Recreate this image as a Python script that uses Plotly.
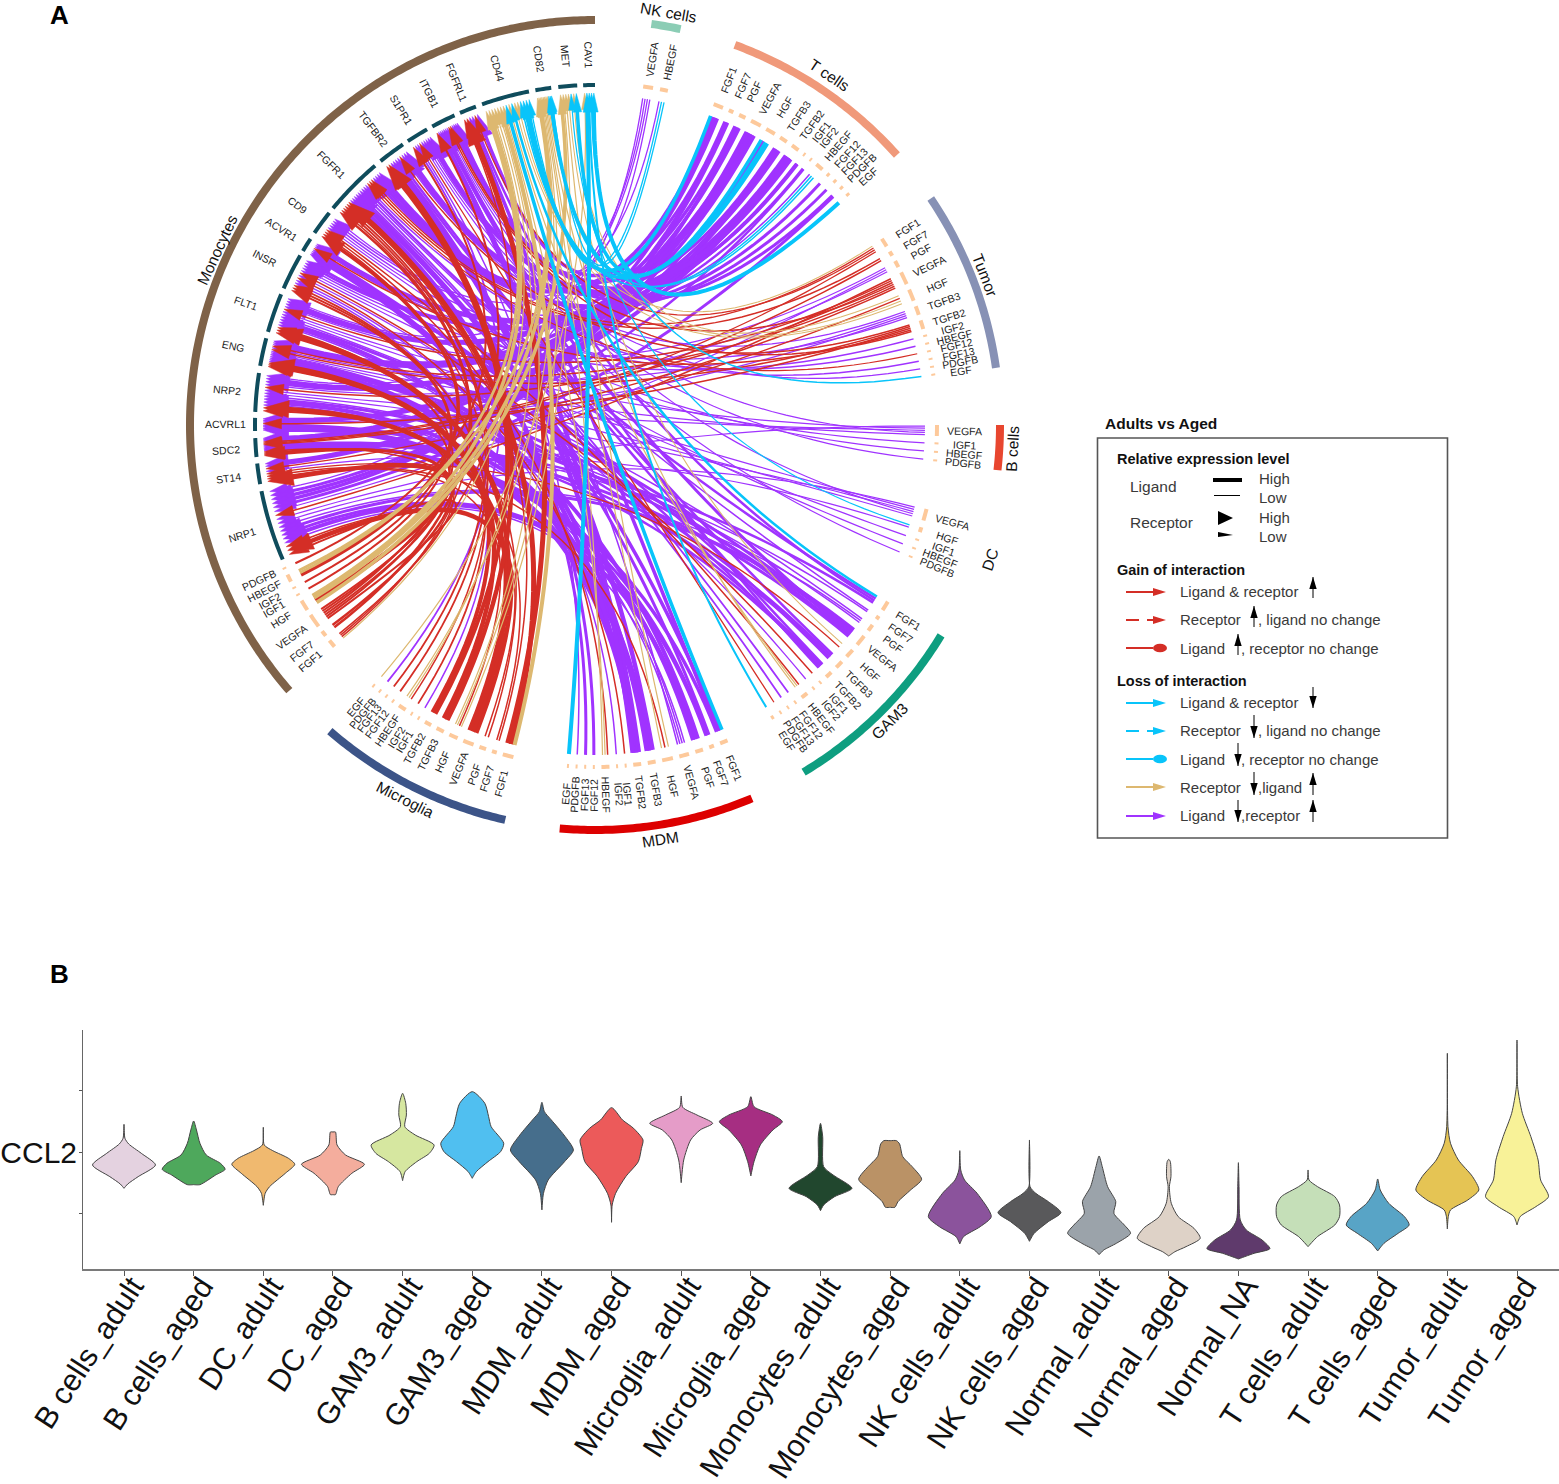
import math
import plotly.graph_objects as go

W, H = 1559, 1484
CX, CY = 595, 425          # centre of the circle on the page
FONT = "Liberation Sans"

# ---------- panel A data ----------
COLORS = {"red": "#D42E26", "cyan": "#08C4FA", "tan": "#DDB870", "purple": "#A033FF"}

GENES14 = ["FGF1","FGF7","PGF","VEGFA","HGF","TGFB3","TGFB2","IGF1","IGF2","HBEGF","FGF12","FGF13","PDGFB","EGF"]

NK_GENES = ["VEGFA","HBEGF"]
NK_TICK = [10,8]
NK_WIDTH = [1.3,1.3]
NK_UP = [0,0]
NK_N = [4,3]

T_TICK = [10,5,7,11,10,8,8,2,2,8,3,3,3,3]
T_WIDTH = [3.5,3,3.5,3.5,3.5,3,4,3,2.5,1.5,3,3,3,4]
T_UP = [0]*14
T_N = [4,3,3,6,4,4,5,3,2,3,1,1,2,1]

TUMOR_GENES = ["FGF1","FGF7","PGF","VEGFA","HGF","TGFB3","TGFB2","IGF2","HBEGF","FGF12","FGF13","PDGFB","EGF"]
TUMOR_TICK = [9,5,7,13,12,9,9,2,2,2,2,2,2]
TUMOR_WIDTH = [1.3,1.5,1.2,1.5,1.3,1.3,1.5,1.5,1.5,1.2,1.5,1.3,1.5]
TUMOR_UP = [1,1,0,1,1,0,1,0,0,1,0,0,0]
TUMOR_N = [4,2,3,6,4,4,5,1,1,1,1,1,1]

B_GENES = ["VEGFA","IGF1","HBEGF","PDGFB"]
B_TICK = [11,2,2,2]
B_WIDTH = [1.2,1.2,1.2,1.2]
B_UP = [0,0,0,0]
B_N = [5,1,1,1]

DC_GENES = ["VEGFA","HGF","IGF1","HBEGF","PDGFB"]
DC_TICK = [12,5,2,2,2]
DC_WIDTH = [1.2,1.2,1.2,1.2,1.2]
DC_UP = [0,0,0,0,0]
DC_N = [5,2,1,1,1]

GAM3_TICK = [10,4,7,11,9,8,7,2,2,7,2,2,2,3]
GAM3_WIDTH = [2.5,1.5,1.5,3,1.3,2.5,2.5,1.5,1.3,1.5,1.8,1.8,1.3,2]
GAM3_UP = [0,0,0,0,1,0,0,1,0,1,0,0,1,0]
GAM3_N = [4,2,3,6,2,4,5,1,1,3,1,1,1,1]

MDM_TICK = [8,5,8,10,11,8,8,2,2,8,2,2,2,2]
MDM_WIDTH = [3.5,3,4,1.5,1.5,4.5,4.5,1.5,1.5,1.5,3,3,1.5,4]
MDM_UP = [0,0,0,0,1,0,0,1,0,1,0,0,0,0]
MDM_N = [4,3,3,4,3,4,5,1,1,3,1,1,1,1]

MG_TICK = [11,5,7,11,9,8,7,2,2,8,2,2,2,2]
MG_WIDTH = [5,1.5,1.5,4.5,1.5,4.5,4,1.5,1.8,1.5,1.8,1.8,1.8,1.5]
MG_UP = [1,1,1,1,1,1,1,0,1,1,1,1,0,1]
MG_N = [3,2,2,3,4,2,2,1,1,3,1,1,1,1]

MONO_GENES = ["FGF1","FGF7","VEGFA","HGF","IGF1","IGF2","HBEGF","PDGFB"]
MONO_TICK = [8,6,14,11,2,2,8,2]
MONO_WIDTH = [1.5,2.5,2,4.5,2,2,3.5,2]
MONO_UP = [1]*8
MONO_N = [4,2,6,4,1,1,3,1]

SECTOR_NAMES = ["NK cells","T cells","Tumor","B cells","DC","GAM3","MDM","Microglia","Monocytes"]
SECTOR_COLORS = ["#8BCDB5","#F0997A","#8791B5","#E8462F",None,"#0E9E80","#DD0000","#3C5488","#7F6248"]
ARC_START = [8,20.2,56,90,104,121.3,157.2,192.8,229]
ARC_END = [12.2,48.2,81.9,96.4,113,149,185,220.9,360]
TICK_START = [8.1,20.3,57,90,104.2,121.1,157.2,193.8,229.6]
TICK_END = [12.3,47.9,81.7,96.1,112.8,149,184.7,220.5,245.4]
LABEL_ANGLE = [10.1,33.9,69,93.2,108.9,135.2,171,206.9,294.9]
LABEL_RADIUS = [419,421,418,418,417,418,420,420,416]
SECTOR_GENES = [NK_GENES,GENES14,TUMOR_GENES,B_GENES,DC_GENES,GENES14,GENES14,GENES14,MONO_GENES]
SECTOR_TICK = [NK_TICK,T_TICK,TUMOR_TICK,B_TICK,DC_TICK,GAM3_TICK,MDM_TICK,MG_TICK,MONO_TICK]
SECTOR_WIDTH = [NK_WIDTH,T_WIDTH,TUMOR_WIDTH,B_WIDTH,DC_WIDTH,GAM3_WIDTH,MDM_WIDTH,MG_WIDTH,MONO_WIDTH]
SECTOR_UP = [NK_UP,T_UP,TUMOR_UP,B_UP,DC_UP,GAM3_UP,MDM_UP,MG_UP,MONO_UP]
SECTOR_N = [NK_N,T_N,TUMOR_N,B_N,DC_N,GAM3_N,MDM_N,MG_N,MONO_N]

RECEPTORS = ["NRP1","ST14","SDC2","ACVRL1","NRP2","ENG","FLT1","INSR","ACVR1","CD9","FGFR1","TGFBR2","S1PR1","ITGB1","FGFRL1","CD44","CD82","MET","CAV1"]
REC_START = [246.7,260,264.6,269,272.2,280,285.9,293.7,300.8,304.4,309.6,320.9,326.6,331.4,336.6,340.6,349.9,353.8,358]
REC_END = [258.8,263.5,267.8,271.2,278.8,284.8,292.6,299.9,303.2,308.6,319.7,325.6,330.4,335.6,339.5,348.8,352.6,357,360]
REC_DOWN = ["CD44","CD82","MET","CAV1"]

LIGAND_TARGETS = {
    "FGF1": ["CD44","FGFR1","FGFRL1","SDC2"],
    "FGF7": ["FGFR1","SDC2","NRP1"],
    "PGF": ["FLT1","NRP1","NRP2"],
    "VEGFA": ["NRP1","FLT1","NRP2","ITGB1","ENG","SDC2"],
    "HGF": ["MET","ST14","CD82","CD44"],
    "TGFB3": ["TGFBR2","ENG","ACVRL1","ACVR1"],
    "TGFB2": ["TGFBR2","ENG","ACVRL1","ACVR1","ITGB1"],
    "IGF1": ["INSR","ITGB1","S1PR1"],
    "IGF2": ["INSR","ST14"],
    "HBEGF": ["CD9","CD44","CD82"],
    "FGF12": ["FGFR1"],
    "FGF13": ["FGFR1"],
    "PDGFB": ["S1PR1","NRP1"],
    "EGF": ["CAV1"],
}

# ---------- panel B data ----------
VLN_NAMES = ["B cells_adult","B cells_aged","DC_adult","DC_aged","GAM3_adult","GAM3_aged","MDM_adult","MDM_aged",
             "Microglia_adult","Microglia_aged","Monocytes_adult","Monocytes_aged","NK cells_adult","NK cells_aged",
             "Normal_adult","Normal_aged","Normal_NA","T cells_adult","T cells_aged","Tumor_adult","Tumor_aged"]
VLN_COLORS = ["#E4D2E0","#4EA85C","#F0B96F","#F4AD9D","#D6E7A0","#50BFF0","#466E8C","#EC5A5A","#E59CC8","#A62E82",
              "#21472E","#BA9266","#8B539C","#59595B","#9BA3AA","#DED2C7","#5F3A6C","#C5DFB8","#58A4C6","#E5C454","#F8F298"]
VLN_LEVELS = [
    [437,395,378,350,315,280,258,245],
    [447,420,380,345,320,302,285,256,256],
    [428,375,358,335,317,290,250,230,194],
    [414,414,375,345,317,290,250,226,226],
    [530,500,465,430,405,375,350,325,295,268],
    [535,500,460,430,380,355,325,295,275],
    [503,475,450,405,360,325,270,230,180],
    [487,450,425,390,365,325,280,230,195,143],
    [522,488,465,440,420,390,330,262],
    [520,490,465,445,420,375,325,282],
    [440,400,310,285,245,220,195,178],
    [388,388,378,340,310,272,240,205,188,188],
    [358,300,270,230,160,130,100,78],
    [390,250,230,205,172,145,110,86],
    [342,310,250,205,170,135,110,80,60,46],
    [332,325,280,250,200,160,125,95,70,55,42],
    [322,250,150,120,90,64,50,33],
    [300,270,250,220,195,160,135,100,70],
    [273,240,200,160,135,110,80,57],
    [650,430,380,330,280,240,210,180,160,123],
    [690,550,470,400,330,270,220,190,160,135],
]
VLN_WIDTHS = [
    [0,.03,.15,.55,1,.45,.12,0],
    [0,.09,.2,.4,.85,1,.7,.2,0],
    [0,.03,.3,.8,1,.7,.2,.06,0],
    [0,.08,.13,.4,1,.6,.17,.08,0],
    [0,.1,.12,.07,.4,1,.85,.45,.08,0],
    [0,.4,.52,.6,1,.9,.5,.13,0],
    [0,.08,.3,.7,1,.72,.2,.05,0],
    [0,.35,.7,1,.95,.85,.45,.13,.02,0],
    [0,.05,.5,1,.6,.3,.08,0],
    [0,.1,.7,1,.7,.3,.1,0],
    [0,.07,.1,.4,1,.45,.1,0],
    [0,.2,.3,.4,.7,1,.65,.25,.15,0],
    [0,.03,.15,.55,1,.65,.12,0],
    [0,.02,.2,.6,1,.6,.15,0],
    [0,.1,.27,.53,.47,.8,1,.55,.15,0],
    [0,.05,.07,.02,.08,.3,.8,1,.55,.2,0],
    [0,.02,.06,.25,.75,1,.5,0],
    [0,.03,.3,.85,1,1,.85,.3,0],
    [0,.08,.35,.85,1,.65,.2,0],
    [0,.02,.1,.35,.8,1,.65,.1,.03,0],
    [0,.02,.17,.44,.67,.75,1,.6,.1,0],
]
VLN_TICKS = [538,353,170]
VLN_TICK_TEXT = ["","CCL2",""]

# ---------- geometry helpers ----------
def pol(r, deg):
    t = math.radians(deg)
    return r*math.sin(t), r*math.cos(t)

def arc(r, a0, a1, n=None):
    n = n or max(2, int(abs(a1-a0)*2)+2)
    pts = [pol(r, a0+(a1-a0)*i/(n-1)) for i in range(n)]
    return [p[0] for p in pts], [p[1] for p in pts]

def px(x): return x/W
def py(y): return 1-y/H

fig = go.Figure()
annotations, shapes = [], []

def add_lines(xs, ys, color, width, axis=("x","y")):
    fig.add_trace(go.Scatter(x=xs, y=ys, mode="lines", line=dict(color=color, width=width, simplify=False),
                             xaxis=axis[0], yaxis=axis[1], hoverinfo="skip", showlegend=False))

def chord_label(text, r, deg, size=10.5):
    rot = deg-90 if deg < 180 else deg-270
    x, y = pol(r, deg)
    annotations.append(dict(x=x, y=y, xref="x", yref="y", text=text, showarrow=False, textangle=rot,
                            xanchor="center", yanchor="middle", font=dict(size=size, family=FONT, color="#222")))

# ---------- layout of the ligand ends ----------
TICK_R, LIG_R, TIP_R = 342, 330, 332
links = []
for s, genes in enumerate(SECTOR_GENES):
    ticks = SECTOR_TICK[s]
    span_deg = TICK_END[s]-TICK_START[s]
    px_per_deg = 2*math.pi*TICK_R/360
    gap = (span_deg*px_per_deg-sum(ticks))/max(1, len(ticks)-1)
    pos = TICK_START[s]
    for g, gene in enumerate(genes):
        a0 = pos
        a1 = pos+ticks[g]/px_per_deg
        pos = a1+gap/px_per_deg
        x, y = arc(TICK_R, a0, a1, 4)
        add_lines(x, y, "#FDC99B", 4)
        chord_label(gene, 370, (a0+a1)/2)
        n = SECTOR_N[s][g]
        targets = LIGAND_TARGETS[gene][:n]
        for i, rec in enumerate(targets):
            links.append(dict(src=a0+(a1-a0)*(i+.5)/n, rec=rec, up=SECTOR_UP[s][g], w=SECTOR_WIDTH[s][g]))

# ---------- layout of the receptor ends ----------
for rec, a0, a1 in zip(RECEPTORS, REC_START, REC_END):
    x, y = arc(340, a0, a1)
    add_lines(x, y, "#0F4C5C", 4)
    chord_label(rec, 370, (a0+a1)/2)
    mine = sorted([l for l in links if l["rec"] == rec], key=lambda l: -l["src"])
    for i, l in enumerate(mine):
        l["dst"] = a0+(a1-a0)*(i+.5)/len(mine)

def kind(l):
    down = l["rec"] in REC_DOWN
    if l["up"]:
        return "tan" if down else "red"
    return "cyan" if down else "purple"

def head_len(l): return 15+(1.0 if l["rec"] in REC_DOWN else 2.3)*l["w"]
def head_half(l):
    if l["rec"] in REC_DOWN:
        return min(4.5, 3+0.5*l["w"])
    return 3.5+1.3*l["w"]

# ---------- draw links, one colour at a time ----------
for colour in ["purple", "red", "tan", "cyan"]:
    group = [l for l in links if kind(l) == colour]
    for w in sorted({l["w"] for l in group}):
        xs, ys = [], []
        for l in group:
            if l["w"] != w:
                continue
            x0, y0 = pol(LIG_R, l["src"])
            x2, y2 = pol(TIP_R-head_len(l)+2, l["dst"])
            for k in range(41):
                t = k/40
                xs.append((1-t)**2*x0+t*t*x2)
                ys.append((1-t)**2*y0+t*t*y2)
            xs.append(None); ys.append(None)
        draw_w = w*0.8 if colour == "tan" else w
        add_lines(xs, ys, COLORS[colour], draw_w)
    hx, hy = [], []
    for l in group:
        head = head_len(l)
        half = head_half(l)/(2*math.pi*TIP_R/360)
        tip = pol(TIP_R, l["dst"])
        b0 = pol(TIP_R-head, l["dst"]-half)
        b1 = pol(TIP_R-head, l["dst"]+half)
        hx += [tip[0], b0[0], b1[0], tip[0], None]
        hy += [tip[1], b0[1], b1[1], tip[1], None]
    fig.add_trace(go.Scatter(x=hx, y=hy, mode="lines", fill="toself", fillcolor=COLORS[colour],
                             line=dict(color=COLORS[colour], width=0.5), hoverinfo="skip", showlegend=False))

# ---------- outer arcs and their names ----------
for s, name in enumerate(SECTOR_NAMES):
    if SECTOR_COLORS[s]:
        x, y = arc(405, ARC_START[s], ARC_END[s])
        add_lines(x, y, SECTOR_COLORS[s], 8)
    deg = LABEL_ANGLE[s]
    if deg < 90:
        rot = deg
    elif deg < 270:
        rot = deg-180
    else:
        rot = deg-360
    x, y = pol(LABEL_RADIUS[s], deg)
    annotations.append(dict(x=x, y=y, xref="x", yref="y", text=name, showarrow=False, textangle=rot,
                            xanchor="center", yanchor="middle", font=dict(size=15.5, family=FONT, color="#111")))

# ---------- violins ----------
HALF = 0.452
for i, name in enumerate(VLN_NAMES):
    lv, wd = VLN_LEVELS[i], VLN_WIDTHS[i]
    xs = [i-w*HALF for w in wd]+[i+w*HALF for w in reversed(wd)]
    ys = list(lv)+list(reversed(lv))
    fig.add_trace(go.Scatter(x=xs, y=ys, mode="lines", fill="toself", fillcolor=VLN_COLORS[i], name=name,
                             line=dict(color="#444444", width=1, shape="spline", smoothing=0.7),
                             xaxis="x2", yaxis="y2", hoverinfo="skip", showlegend=False))

# ---------- legend ----------
def txt(x, y, s, bold=False, size=15, color=None):
    annotations.append(dict(x=px(x-2), y=py(y-1), xref="paper", yref="paper", text=f"<b>{s}</b>" if bold else s,
                            showarrow=False, xanchor="left", yanchor="middle",
                            font=dict(size=size, family=FONT, color=color or ("#111" if bold else "#3A3A3A"))))

def seg(x0, y0, x1, y1, color="#000", w=1):
    shapes.append(dict(type="line", xref="paper", yref="paper", x0=px(x0), x1=px(x1), y0=py(y0), y1=py(y1),
                       line=dict(color=color, width=w)))

def tri(pts, color="#000"):
    d = "M "+" L ".join(f"{px(a):.5f} {py(b):.5f}" for a, b in pts)+" Z"
    shapes.append(dict(type="path", xref="paper", yref="paper", path=d, fillcolor=color, line=dict(width=0)))

def updown(x, y0, y1, up):
    seg(x, y0, x, y1, "#000", 1)
    if up:
        tri([(x, y0), (x-3.7, y0+12), (x+3.7, y0+12)])
    else:
        tri([(x, y1), (x-3.7, y1-12), (x+3.7, y1-12)])

def sample(y, color, style="solid"):
    if style == "dash":
        seg(1126, y, 1139, y, color, 2)
        seg(1147, y, 1153, y, color, 2)
    else:
        seg(1126, y, 1153, y, color, 2)
    if style == "dot":
        shapes.append(dict(type="circle", xref="paper", yref="paper", x0=px(1153), x1=px(1167),
                           y0=py(y+4.3), y1=py(y-4.3), fillcolor=color, line=dict(width=0)))
    else:
        tri([(1153, y-4), (1153, y+4), (1166, y)], color)

shapes.append(dict(type="rect", xref="paper", yref="paper", x0=px(1097.5), x1=px(1447.5), y0=py(838), y1=py(438),
                   line=dict(color="#555555", width=1.6)))
txt(1105, 424, "Adults vs Aged", True, 15.5)
txt(1117, 460, "Relative expression level", True, 14.5)
txt(1130, 487, "Ligand", size=15.5); txt(1130, 523, "Receptor", size=15.5)
for yy, s in [(479,"High"),(498,"Low"),(518,"High"),(537,"Low")]:
    txt(1259, yy, s, size=15)
seg(1213, 480, 1242, 480, "#000", 4); seg(1214, 495.5, 1240, 495.5, "#000", 1)
tri([(1218, 511), (1218, 525), (1233, 518)]); tri([(1218, 532), (1218, 537), (1233, 535)])
txt(1117, 571, "Gain of interaction", True, 14.5)
txt(1117, 682, "Loss of interaction", True, 14.5)
R, C, T, P = COLORS["red"], COLORS["cyan"], COLORS["tan"], COLORS["purple"]
sample(592, R); txt(1180, 592, "Ligand &amp; receptor"); updown(1313, 577, 598, True)
sample(620, R, "dash"); txt(1180, 620, "Receptor"); updown(1254, 606, 627, True); txt(1258, 620, ", ligand no change")
sample(648, R, "dot"); txt(1180, 649, "Ligand"); updown(1238, 634, 655, True); txt(1241, 649, ", receptor no change")
sample(703, C); txt(1180, 703, "Ligand &amp; receptor"); updown(1313, 687, 708, False)
sample(731, C, "dash"); txt(1180, 731, "Receptor"); updown(1254, 715, 738, False); txt(1258, 731, ", ligand no change")
sample(759, C, "dot"); txt(1180, 760, "Ligand"); updown(1238, 743, 766, False); txt(1241, 760, ", receptor no change")
sample(787, T); txt(1180, 788, "Receptor"); updown(1254, 772, 795, False); txt(1258, 788, ",ligand"); updown(1313, 773, 795, True)
sample(816, P); txt(1180, 816, "Ligand"); updown(1238, 800, 822, False); txt(1241, 816, ",receptor"); updown(1313, 800, 822, True)

# ---------- panel letters ----------
for s, x, y in [("A", 50, 16), ("B", 50, 975)]:
    txt(x, y, s, True, 26, "#000")

# ---------- axes ----------
STEP = 69.65
fig.update_layout(
    width=W, height=H, margin=dict(l=0, r=0, t=0, b=0, autoexpand=False), autosize=False,
    paper_bgcolor="white", plot_bgcolor="rgba(0,0,0,0)", showlegend=False,
    font=dict(family=FONT),
    xaxis=dict(domain=[0,1], range=[-CX, W-CX], visible=False, fixedrange=True, automargin=False),
    yaxis=dict(domain=[0,1], range=[CY-H, CY], visible=False, fixedrange=True, automargin=False),
    xaxis2=dict(domain=[83/W, 1], anchor="y2", range=[-(124-83)/STEP, (W-124)/STEP], tickmode="array",
                tickvals=list(range(len(VLN_NAMES))), ticktext=VLN_NAMES, tickangle=-57, automargin=False,
                ticklabelstandoff=-20, ticklabelshift=8,
                tickfont=dict(size=30.5, family=FONT, color="#111"), ticks="outside", ticklen=5, tickcolor="#555",
                showgrid=False, zeroline=False, showline=True, linecolor="#7A7A7A", linewidth=2),
    yaxis2=dict(domain=[(H-1269.3)/H, (H-1030)/H], anchor="x2", range=[2, 720], tickmode="array", automargin=False,
                ticklabelstandoff=-4,
                tickvals=VLN_TICKS, ticktext=VLN_TICK_TEXT, tickfont=dict(size=30, family=FONT, color="#111"),
                ticks="outside", ticklen=3, tickcolor="#555", showgrid=False, zeroline=False,
                showline=True, linecolor="#666", linewidth=1),
    annotations=annotations, shapes=shapes,
)
fig.write_html("out.html", config={"displayModeBar": False}, post_script="document.body.style.margin='0';")
